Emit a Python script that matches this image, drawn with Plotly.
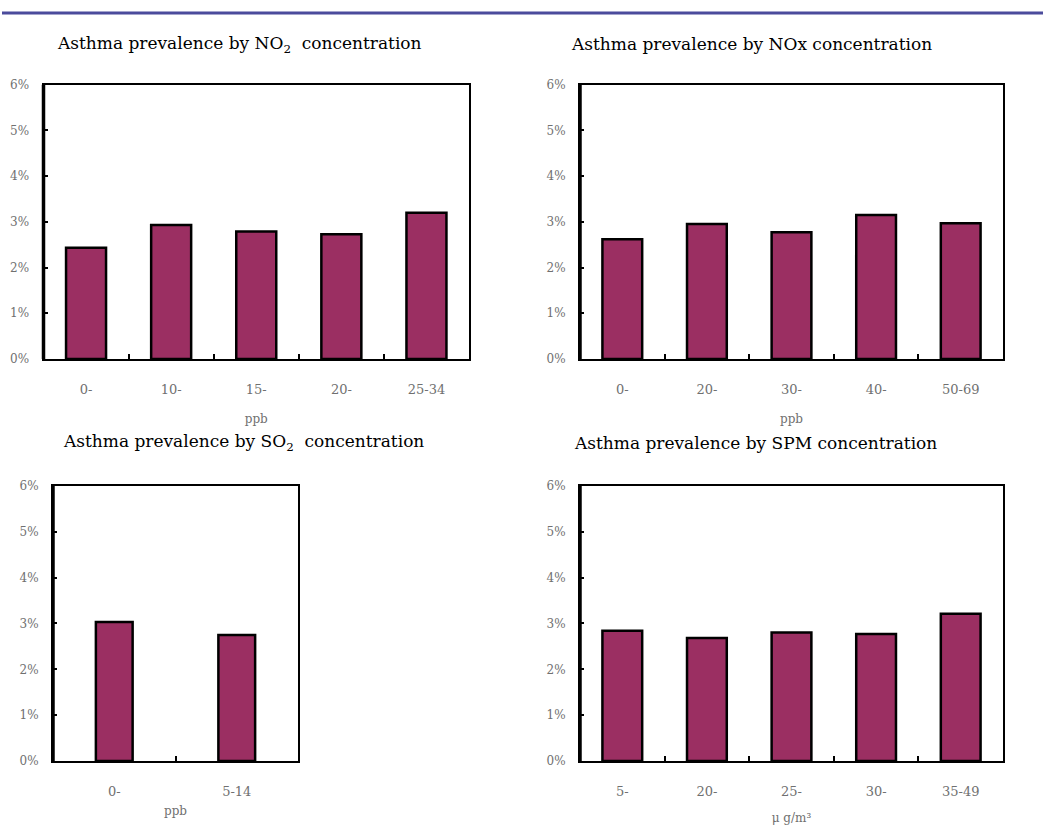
import plotly.graph_objects as go

W, H = 1043, 830

no2_cats = ["0-", "10-", "15-", "20-", "25-34"]
no2_vals = [2.43, 2.93, 2.79, 2.73, 3.20]

nox_cats = ["0-", "20-", "30-", "40-", "50-69"]
nox_vals = [2.62, 2.95, 2.77, 3.15, 2.97]

so2_cats = ["0-", "5-14"]
so2_vals = [3.03, 2.75]

spm_cats = ["5-", "20-", "25-", "30-", "35-49"]
spm_vals = [2.84, 2.68, 2.80, 2.77, 3.21]

y_tickvals = [0, 1, 2, 3, 4, 5, 6]
y_ticktext = ["0%", "1%", "2%", "3%", "4%", "5%", "6%"]

titles = [
    "Asthma prevalence by NO<sub>2</sub>  concentration",
    "Asthma prevalence by NOx concentration",
    "Asthma prevalence by SO<sub>2</sub>  concentration",
    "Asthma prevalence by SPM concentration",
]
x_titles = ["ppb", "ppb", "ppb", "\u03bc g/m\u00b3"]

BAR = "#9b2f62"
GRAY = "#707070"
SERIF = "DejaVu Serif"

def px_x(a, b):
    return [a / W, b / W]

def px_y(top, bottom):
    return [1 - bottom / H, 1 - top / H]

# (categories, values, x-domain, y-domain, gap fraction, x-title standoff)
panels = [
    (no2_cats, no2_vals, px_x(43.5, 469), px_y(79, 358), 0.53, 19),
    (nox_cats, nox_vals, px_x(580, 1003), px_y(79, 358), 0.53, 19),
    (so2_cats, so2_vals, px_x(53, 298), px_y(487, 767), 0.70, 9),
    (spm_cats, spm_vals, px_x(580, 1003), px_y(487, 767), 0.53, 16),
]

fig = go.Figure()
layout = dict(
    width=W, height=H,
    margin=dict(l=0, r=0, t=0, b=0),
    paper_bgcolor="white", plot_bgcolor="white",
    showlegend=False,
    font=dict(family=SERIF, color=GRAY, size=11),
    bargap=0.53,
)

for i, (cats, vals, xd, yd, gap, tstand) in enumerate(panels):
    n = "" if i == 0 else str(i + 1)
    fig.add_trace(go.Bar(
        x=cats, y=vals, xaxis="x" + n, yaxis="y" + n,
        marker=dict(color=BAR, line=dict(color="black", width=2.5)),
        width=[1 - gap] * len(cats),
        hoverinfo="x+y",
    ))
    layout["xaxis" + n] = dict(
        domain=xd, anchor="y" + n, type="category",
        showline=True, linecolor="black", linewidth=2, mirror=True,
        ticks="inside", ticklen=5, tickwidth=2, tickcolor="black",
        tickson="boundaries", showgrid=False, zeroline=False,
        tickfont=dict(family=SERIF, size=13, color=GRAY),
        ticklabelstandoff=17,
        title=dict(text=x_titles[i], font=dict(family=SERIF, size=12, color=GRAY), standoff=tstand),
        fixedrange=True,
    )
    layout["yaxis" + n] = dict(
        domain=yd, anchor="x" + n, range=[0, 6],
        tickvals=y_tickvals, ticktext=y_ticktext,
        showline=True, linecolor="black", linewidth=2, mirror=True,
        ticks="inside", ticklen=4, tickwidth=2, tickcolor="black",
        showgrid=False, zeroline=False,
        tickfont=dict(family=SERIF, size=12, color=GRAY),
        ticklabelstandoff=10,
        fixedrange=True,
    )

fig.update_layout(**layout)

# slightly heavier left axis line, as in the reference
for i, p in enumerate(panels):
    n = "" if i == 0 else str(i + 1)
    fig.add_shape(type="line", xref=("x" + n) + " domain", yref=("y" + n) + " domain",
                  x0=0, x1=0, y0=0, y1=1, line=dict(color="black", width=3.5))

# titles
title_pos = [(55, 38), (569, 38), (61, 443), (572, 443)]
for (tx, ty), t in zip(title_pos, titles):
    fig.add_annotation(
        text=t, x=tx / W, y=1 - ty / H, xref="paper", yref="paper",
        xanchor="left", yanchor="middle", showarrow=False,
        font=dict(family=SERIF, size=17, color="black"),
    )

# top rule line
fig.add_shape(type="line", xref="paper", yref="paper",
              x0=2 / W, x1=1, y0=1 - 6 / H, y1=1 - 6 / H,
              line=dict(color="#4b4b9c", width=3))

fig.write_html("out.html", config={"displayModeBar": False})

# pin the figure to the window origin
with open("out.html", "r", encoding="utf-8") as f:
    html = f.read()
css = ("<style>html,body{margin:0;padding:0;overflow:hidden;}"
       ".plotly-graph-div{position:absolute;top:0;left:0;}</style>")
html = html.replace("<head>", "<head>" + css, 1)
with open("out.html", "w", encoding="utf-8") as f:
    f.write(html)
